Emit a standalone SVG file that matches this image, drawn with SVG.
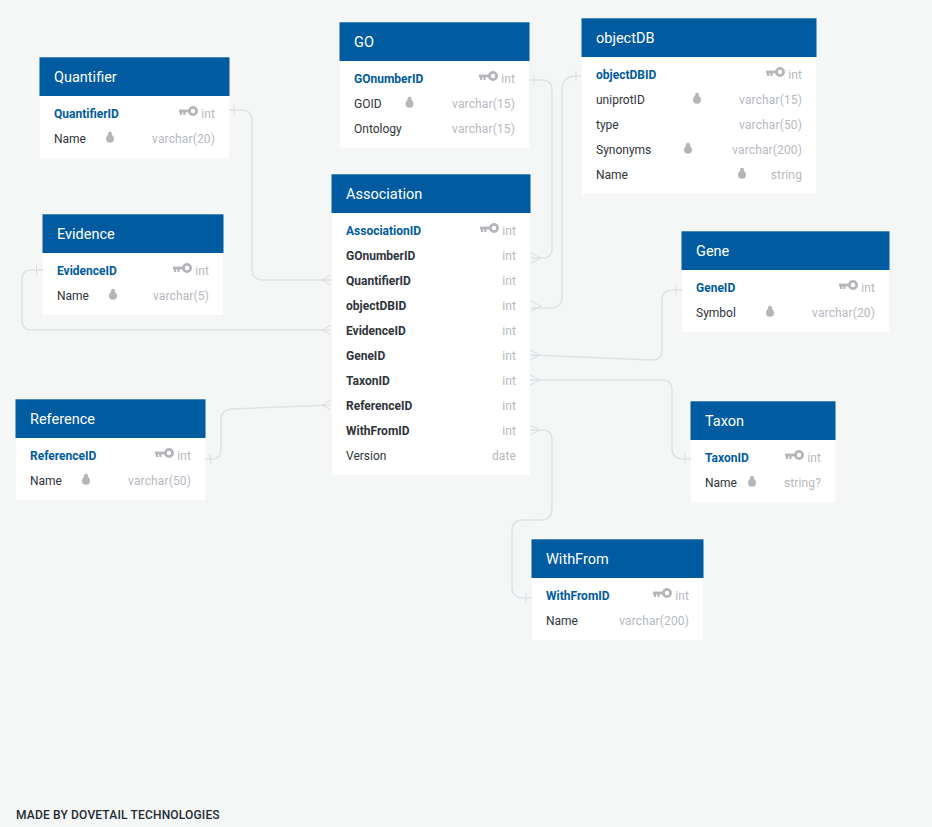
<svg xmlns="http://www.w3.org/2000/svg" width="932" height="827" viewBox="0 0 932 827">
<style>
text{font-family:Roboto,"Liberation Sans",sans-serif}
.b{fill:#fff}.h{fill:#005ba1}
.t{font-size:14.5px;fill:#fff}
.pk{font-size:12px;font-weight:700;fill:#005ba1}
.fk{font-size:12px;font-weight:700;fill:#2f343b}
.n{font-size:12px;fill:#2f343b}
.ty{font-size:12px;fill:#b6b9bf;text-anchor:end;letter-spacing:.13px}
.c{fill:none;stroke:#e0e2e8;stroke-width:1.5}
.m{fill:none;stroke:#dadce2;stroke-width:1}
.foot{font-size:12px;font-weight:500;fill:#252b33;letter-spacing:.17px}
</style>
<defs>
<g id="key"><path d="M0 -3H12" fill="none" stroke="#b4b6b9" stroke-width="2.8"/><path d="M2 -3V1M5.400 -3V1" fill="none" stroke="#b4b6b9" stroke-width="2.200"/><circle cx="14" cy="-3" r="3.600" fill="none" stroke="#b4b6b9" stroke-width="2.800"/></g>
<g id="idx"><circle cx="0" cy="1.8" r="4" fill="#b4b6b9"/><rect x="-1.9" y="-5.2" width="3.8" height="6" rx="1.7" fill="#b4b6b9"/></g>
</defs>
<rect width="932" height="827" fill="#f5f7f7"/>
<g id="connectors">
<path class="c" d="M230 110H241Q252 110 252 120V269Q252 280 263 280H331"/>
<path class="m" d="M234 105V115M322 280L331 275M322 280L331 285"/>
<path class="c" d="M43 270H32Q22 270 22 280V320Q22 330 32 330H331"/>
<path class="m" d="M36.500 265V275M322 330L331 325M322 330L331 335"/>
<path class="c" d="M530 80H542Q552 80 552 90V249Q552 258 542 258H531"/>
<path class="m" d="M534 75V85M541 258L531 253M541 258L531 263"/>
<path class="c" d="M581 76H575Q562 77 562 90V297Q562 308 550 308H531"/>
<path class="m" d="M576 71V81M541 306L531 301M541 306L531 311"/>
<path class="c" d="M530 355L652 360Q662 360 662 350V300Q662 290 673 290H682"/>
<path class="m" d="M676 285V295M540 355L530 350M540 355L530 360"/>
<path class="c" d="M530 380H662Q672 380 672 390V448Q672 459 683 459H691"/>
<path class="m" d="M685 454V464M540 380L530 375M540 380L530 385"/>
<path class="c" d="M530 430H542Q552 430 552 440V509Q552 520 541 520H523Q512 520 512 531V587Q512 598 523 598H532"/>
<path class="m" d="M526 593V603M540 430L530 425M540 430L530 435"/>
<path class="c" d="M206 459H212Q221 459 221 450V420Q221 410 232 409L331 405"/>
<path class="m" d="M210 454L211 464M322 405L331 400M322 405L331 410"/>
</g>
<g id="Quantifier"><rect class="b" x="40" y="96" width="189" height="62"/><rect class="h" x="39.500" y="57.300" width="190" height="38.700"/><text class="t" x="54" y="82">Quantifier</text>
<text class="pk" x="54" y="118">QuantifierID</text><use href="#key" x="179" y="114"/><text class="ty" x="215" y="118">int</text>
<text class="n" x="54" y="143">Name</text><use href="#idx" x="110" y="137"/><text class="ty" x="215" y="143">varchar(20)</text></g>
<g id="Evidence"><rect class="b" x="43" y="253" width="180" height="62"/><rect class="h" x="42.500" y="214.300" width="181" height="38.700"/><text class="t" x="57" y="239">Evidence</text>
<text class="pk" x="57" y="275">EvidenceID</text><use href="#key" x="173" y="271"/><text class="ty" x="209" y="275">int</text>
<text class="n" x="57" y="300">Name</text><use href="#idx" x="113" y="294"/><text class="ty" x="209" y="300">varchar(5)</text></g>
<g id="GO"><rect class="b" x="340" y="61" width="189" height="87"/><rect class="h" x="339.500" y="22.300" width="190" height="38.700"/><text class="t" x="354" y="47">GO</text>
<text class="pk" x="354" y="83">GOnumberID</text><use href="#key" x="479" y="79"/><text class="ty" x="515" y="83">int</text>
<text class="n" x="354" y="108">GOID</text><use href="#idx" x="409.500" y="102"/><text class="ty" x="515" y="108">varchar(15)</text>
<text class="n" x="354" y="133">Ontology</text><text class="ty" x="515" y="133">varchar(15)</text></g>
<g id="objectDB"><rect class="b" x="582" y="57" width="234" height="137"/><rect class="h" x="581.500" y="18.300" width="235" height="38.700"/><text class="t" x="596" y="43">objectDB</text>
<text class="pk" x="596" y="79">objectDBID</text><use href="#key" x="766" y="75"/><text class="ty" x="802" y="79">int</text>
<text class="n" x="596" y="104">uniprotID</text><use href="#idx" x="697" y="98"/><text class="ty" x="802" y="104">varchar(15)</text>
<text class="n" x="596" y="129">type</text><text class="ty" x="802" y="129">varchar(50)</text>
<text class="n" x="596" y="154">Synonyms</text><use href="#idx" x="688" y="148"/><text class="ty" x="802" y="154">varchar(200)</text>
<text class="n" x="596" y="179">Name</text><use href="#idx" x="742" y="173"/><text class="ty" x="802" y="179">string</text></g>
<g id="Association"><rect class="b" x="332" y="213" width="198" height="262"/><rect class="h" x="331.500" y="174.300" width="199" height="38.700"/><text class="t" x="346" y="199">Association</text>
<text class="pk" x="346" y="235">AssociationID</text><use href="#key" x="480" y="231"/><text class="ty" x="516" y="235">int</text>
<text class="fk" x="346" y="260">GOnumberID</text><text class="ty" x="516" y="260">int</text>
<text class="fk" x="346" y="285">QuantifierID</text><text class="ty" x="516" y="285">int</text>
<text class="fk" x="346" y="310">objectDBID</text><text class="ty" x="516" y="310">int</text>
<text class="fk" x="346" y="335">EvidenceID</text><text class="ty" x="516" y="335">int</text>
<text class="fk" x="346" y="360">GeneID</text><text class="ty" x="516" y="360">int</text>
<text class="fk" x="346" y="385">TaxonID</text><text class="ty" x="516" y="385">int</text>
<text class="fk" x="346" y="410">ReferenceID</text><text class="ty" x="516" y="410">int</text>
<text class="fk" x="346" y="435">WithFromID</text><text class="ty" x="516" y="435">int</text>
<text class="n" x="346" y="460">Version</text><text class="ty" x="516" y="460">date</text></g>
<g id="Gene"><rect class="b" x="682" y="270" width="207" height="62"/><rect class="h" x="681.500" y="231.300" width="208" height="38.700"/><text class="t" x="696" y="256">Gene</text>
<text class="pk" x="696" y="292">GeneID</text><use href="#key" x="839" y="288"/><text class="ty" x="875" y="292">int</text>
<text class="n" x="696" y="317">Symbol</text><use href="#idx" x="770" y="311"/><text class="ty" x="875" y="317">varchar(20)</text></g>
<g id="Taxon"><rect class="b" x="691" y="440" width="144" height="62"/><rect class="h" x="690.500" y="401.300" width="145" height="38.700"/><text class="t" x="705" y="426">Taxon</text>
<text class="pk" x="705" y="462">TaxonID</text><use href="#key" x="785" y="458"/><text class="ty" x="821" y="462">int</text>
<text class="n" x="705" y="487">Name</text><use href="#idx" x="752" y="481"/><text class="ty" x="821" y="487">string?</text></g>
<g id="Reference"><rect class="b" x="16" y="438" width="189" height="62"/><rect class="h" x="15.500" y="399.300" width="190" height="38.700"/><text class="t" x="30" y="424">Reference</text>
<text class="pk" x="30" y="460">ReferenceID</text><use href="#key" x="155" y="456"/><text class="ty" x="191" y="460">int</text>
<text class="n" x="30" y="485">Name</text><use href="#idx" x="86" y="479"/><text class="ty" x="191" y="485">varchar(50)</text></g>
<g id="WithFrom"><rect class="b" x="532" y="578" width="171" height="62"/><rect class="h" x="531.500" y="539.300" width="172" height="38.700"/><text class="t" x="546" y="564">WithFrom</text>
<text class="pk" x="546" y="600">WithFromID</text><use href="#key" x="653" y="596"/><text class="ty" x="689" y="600">int</text>
<text class="n" x="546" y="625">Name</text><text class="ty" x="689" y="625">varchar(200)</text></g>
<text class="foot" x="16" y="819">MADE BY DOVETAIL TECHNOLOGIES</text>
</svg>
